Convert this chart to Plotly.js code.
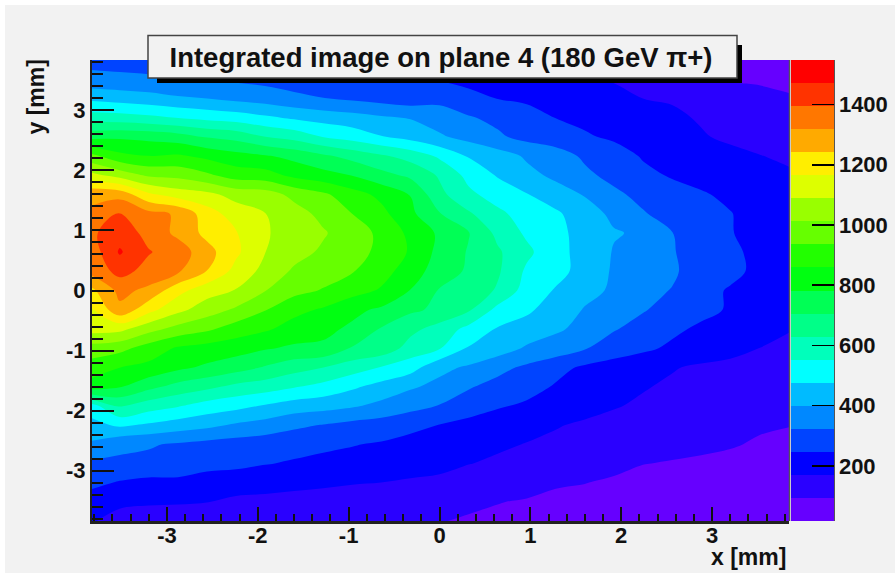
<!DOCTYPE html>
<html><head><meta charset="utf-8">
<script src="https://cdn.plot.ly/plotly-3.0.1.min.js"></script>
<style>html,body{margin:0;padding:0;background:#fff;overflow:hidden}#g{position:absolute;left:5px;top:5px;width:890px;height:568px}</style>
</head><body><div id="g"></div>
<script>
var xs=[-3.84,-3.52,-3.2,-2.88,-2.56,-2.24,-1.92,-1.6,-1.28,-0.96,-0.64,-0.32,0,0.32,0.64,0.96,1.28,1.6,1.92,2.24,2.56,2.88,3.2,3.52,3.85];
var ys=[3.84,3.52,3.2,2.88,2.56,2.24,1.92,1.6,1.28,0.96,0.64,0.32,0,-0.32,-0.64,-0.96,-1.28,-1.6,-1.92,-2.24,-2.56,-2.88,-3.2,-3.52,-3.84];
var zRows=[
[300,295,290,280,275,265,255,248,235,225,215,210,200,195,185,178,170,160,150,140,125,110,95,88,80],
[345,340,335,325,318,310,300,290,280,268,260,250,240,225,215,205,190,175,165,155,130,112,92,86,82],
[460,445,430,410,400,380,365,340,325,310,295,280,300,270,245,230,215,205,190,170,165,150,135,110,98],
[590,585,570,550,530,515,490,465,445,430,410,395,365,330,305,285,245,230,215,190,180,165,150,135,120],
[760,770,760,740,700,680,630,600,550,520,480,450,410,375,335,300,280,255,235,220,200,175,160,150,135],
[960,880,860,870,840,810,790,760,720,680,640,600,540,470,435,390,360,310,280,240,220,200,185,172,160],
[1110,1060,1000,990,950,900,890,840,810,780,730,690,620,530,470,420,385,340,300,265,240,220,205,190,178],
[1300,1290,1180,1130,1110,1060,1050,990,950,890,840,780,650,570,520,480,430,395,340,300,275,255,230,205,188],
[1330,1400,1340,1310,1200,1130,1090,1045,990,935,880,800,710,640,570,520,490,430,385,330,290,270,250,215,195],
[1380,1440,1370,1300,1220,1170,1100,1040,1020,970,920,840,770,710,610,540,500,445,405,390,325,280,250,225,200],
[1350,1480,1400,1360,1270,1180,1090,1040,1000,960,920,850,760,700,640,570,500,450,395,365,330,280,260,230,205],
[1340,1420,1370,1330,1240,1140,1065,1000,970,940,890,820,745,695,640,540,500,450,390,370,335,285,265,230,205],
[1220,1340,1300,1190,1120,1085,1015,960,930,890,850,780,700,680,620,520,470,420,390,345,320,270,240,220,190],
[1150,1300,1190,1110,1050,1000,940,880,850,800,770,720,690,640,530,490,440,395,350,330,290,265,240,215,190],
[1120,1110,1040,985,950,900,870,830,800,770,700,650,600,530,470,445,410,380,330,290,260,235,210,190,175],
[980,960,900,850,830,815,790,770,770,700,680,600,560,470,440,390,370,330,280,260,235,210,195,170,150],
[900,860,840,800,770,740,700,660,630,590,550,510,420,390,345,310,270,235,220,200,175,160,150,135,120],
[830,790,730,680,650,610,590,560,530,490,450,410,380,330,300,275,240,220,195,175,160,145,130,120,108],
[520,640,590,560,520,500,470,440,430,410,380,350,320,290,255,235,210,195,175,160,140,130,120,110,100],
[450,490,465,440,420,390,370,340,320,300,290,265,245,220,205,190,175,160,150,140,125,115,105,100,95],
[390,340,330,315,300,290,280,270,260,250,240,225,210,195,180,168,155,145,130,125,110,105,98,88,82],
[310,310,305,290,270,265,250,240,230,225,215,205,190,172,160,150,140,120,110,95,90,85,80,75,70],
[270,240,225,230,215,205,200,190,185,175,170,160,155,140,125,110,100,95,85,75,70,65,60,58,55],
[205,190,180,175,172,155,150,145,135,130,125,120,110,100,95,90,80,75,70,60,55,50,48,45,40],
[180,135,130,140,125,120,115,115,110,105,100,98,95,90,85,80,70,65,60,55,50,45,40,38,35]
];
var bandColors=["#6600ff","#2a00ff","#0000ff","#0044ff","#0088ff","#00bbff","#00ffff","#00ffbb","#00ff88","#00ff55","#00ff11","#22ff00","#66ff00","#99ff00","#ddff00","#ffee00","#ffaa00","#ff7700","#ff3300","#ff0000"];
var zLow=17, zHigh=1548;
var axisTickValues=[-3,-2,-1,0,1,2,3];
var axisTickLabels=["-3","-2","-1","0","1","2","3"];
var titleText="Integrated image on plane 4 (180 GeV π+)";
var xTitle="x [mm]", yTitle="y [mm]";

var W=890,H=568,ml=87,mt=55,pw=697,ph=461,mr=W-ml-pw,mb=H-mt-ph;
function px(v){return (v-5-ml)/pw;}
function py(v){return 1-(v-5-mt)/ph;}
var n=bandColors.length, cs=[];
bandColors.forEach(function(c,i){cs.push([i/n,c]);cs.push([(i+1)/n,c]);});
var fam='"Liberation Sans",Arial,sans-serif';
var tickFont={family:fam,size:22,color:'#111',weight:'bold'};
function box(x0,y0,x1,y1,fill,line,lw){return {type:'rect',xref:'paper',yref:'paper',x0:px(x0),x1:px(x1),y0:py(y1),y1:py(y0),fillcolor:fill,line:{color:line,width:lw},layer:'above'};}
var trace={type:'contour',x:xs,y:ys,z:zRows,zmin:zLow,zmax:zHigh,autocontour:false,
 contours:{start:zLow,end:zHigh,size:(zHigh-zLow)/n,coloring:'fill',showlines:false},
 line:{width:0},colorscale:cs,hoverinfo:'skip',
 colorbar:{x:px(791),xanchor:'left',xref:'paper',y:0,yanchor:'bottom',len:1,lenmode:'fraction',thickness:43,thicknessmode:'pixels',xpad:0,ypad:0,outlinewidth:0,ticks:'inside',ticklen:22,tickwidth:1.5,tickcolor:'#000',tick0:200,dtick:200,tickfont:tickFont}};
var axisCommon={tickmode:'array',tickvals:axisTickValues,ticktext:axisTickLabels,ticks:'inside',tickcolor:'#111',showgrid:false,zeroline:false,showline:true,linecolor:'#222',tickfont:tickFont};
var layout={width:W,height:H,margin:{l:ml,r:mr,t:mt,b:mb,pad:0,autoexpand:false},paper_bgcolor:'#f2f2f2',plot_bgcolor:'#f2f2f2',showlegend:false,
 title:{text:titleText,font:{family:fam,size:27.5,color:'#111',weight:'bold'},x:(441-5)/W,xanchor:'center',xref:'container',y:1-(57-5)/H,yanchor:'middle',yref:'container'},
 xaxis:Object.assign({},axisCommon,{range:[-3.825,3.847],ticklen:14,tickwidth:2,linewidth:2.5,ticklabelstandoff:-7,minor:{dtick:0.2,tick0:0,ticks:'inside',ticklen:7,tickwidth:2,tickcolor:'#111',showgrid:false}}),
 yaxis:Object.assign({},axisCommon,{range:[-3.84,3.84],ticklen:22,tickwidth:2,linewidth:2,minor:{dtick:0.2,tick0:0,ticks:'inside',ticklen:11,tickwidth:2,tickcolor:'#111',showgrid:false}}),
 shapes:[
  box(157,45,742,83,'#000','#000',0),
  box(148,35.5,737,78,'#f2f2f2','#444',1.5),
  {type:'line',xref:'paper',yref:'paper',x0:px(789.5),x1:px(789.5),y0:0,y1:1,line:{color:'#555',width:1.5},layer:'above'},
  {type:'line',xref:'paper',yref:'paper',x0:px(834),x1:px(834),y0:0,y1:1,line:{color:'#222',width:1.5},layer:'above'}
 ],
 annotations:[
  {text:xTitle,xref:'paper',yref:'paper',x:px(788),y:py(557),xanchor:'right',yanchor:'middle',showarrow:false,font:{family:fam,size:23,color:'#111',weight:'bold'}},
  {text:yTitle,xref:'paper',yref:'paper',x:px(35),y:py(58),xanchor:'center',yanchor:'top',textangle:-90,showarrow:false,font:{family:fam,size:23,color:'#111',weight:'bold'}}
 ]};
Plotly.newPlot('g',[trace],layout,{displayModeBar:false,staticPlot:true});
</script></body></html>
